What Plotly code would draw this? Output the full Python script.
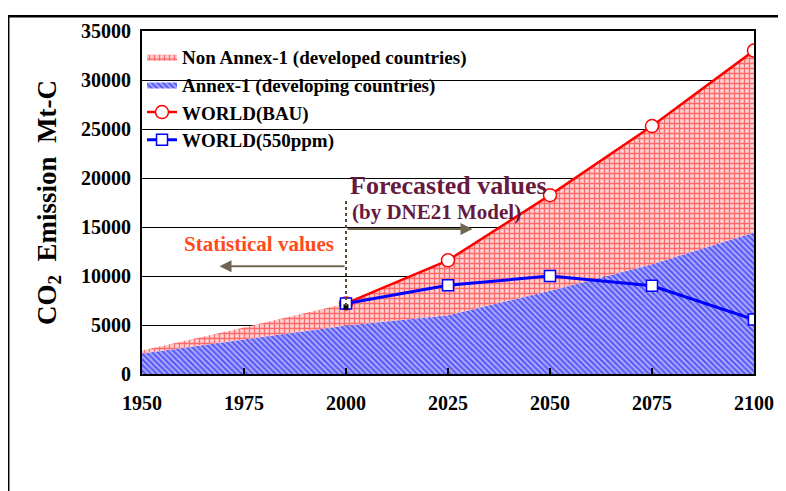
import plotly.graph_objects as go
import numpy as np

years = [1950, 1975, 2000, 2025, 2050, 2075, 2100]
annex1 = [2100, 3500, 4950, 6000, 8500, 11200, 14450]
non_annex1 = [300, 1250, 2250, 5600, 9750, 14100, 18550]
bau_years = [2000, 2025, 2050, 2075, 2100]
world_bau = [7200, 11600, 18250, 25300, 33000]
world_550 = [7200, 9050, 10000, 9000, 5550]
stat_end_year = [2000]
stat_end_val = [6850]

total = list(np.add(annex1, non_annex1))

FONT = "Liberation Serif, Times New Roman, serif"

fig = go.Figure()
fig.add_trace(go.Scatter(
    x=years, y=annex1, mode="lines", fill="tozeroy",
    line=dict(width=0, color="#2020ff"),
    fillcolor="white",
    fillpattern=dict(shape="\\", fgcolor="#0000ee", bgcolor="#b4b4ff", size=4, solidity=0.55),
    name="<b>Annex-1 (developing countries)</b>", legendrank=2))
fig.add_trace(go.Scatter(
    x=years, y=total, mode="lines", fill="tonexty",
    line=dict(width=0, color="#ff2020"),
    fillcolor="white",
    fillpattern=dict(shape="+", fgcolor="#ff0000", bgcolor="#ffd2d2", size=5, solidity=0.45),
    name="<b>Non Annex-1 (developed countries)</b>", legendrank=1))
fig.add_trace(go.Scatter(
    x=bau_years, y=world_bau, mode="lines+markers",
    line=dict(color="#ff0000", width=2.5),
    marker=dict(symbol="circle", size=13, color="white", line=dict(color="#ff0000", width=1.5)),
    name="<b>WORLD(BAU)</b>", legendrank=3))
fig.add_trace(go.Scatter(
    x=bau_years, y=world_550, mode="lines+markers",
    line=dict(color="#0000ff", width=3),
    marker=dict(symbol="square", size=11, color="white", line=dict(color="#0000ff", width=1.5)),
    name="<b>WORLD(550ppm)</b>", legendrank=4))
fig.add_trace(go.Scatter(
    x=stat_end_year, y=stat_end_val, mode="markers",
    marker=dict(symbol="square", size=5, color="black"), showlegend=False))

# dotted divider at 2000
fig.add_shape(type="line", x0=2000, x1=2000, y0=6950, y1=17900, xref="x", yref="y",
              line=dict(color="#5c4a2a", width=2, dash="dot"))

arrow_col = "#6e6650"
fig.add_annotation(x=2031, y=14800, ax=2000, ay=14800, xref="x", yref="y", axref="x", ayref="y",
                   text="", showarrow=True, arrowhead=2, arrowsize=1.2, arrowwidth=2, arrowcolor=arrow_col)
fig.add_annotation(x=1969, y=11000, ax=2000, ay=11000, xref="x", yref="y", axref="x", ayref="y",
                   text="", showarrow=True, arrowhead=2, arrowsize=1.2, arrowwidth=2, arrowcolor=arrow_col)

fig.add_annotation(x=2025.1, y=19250, xref="x", yref="y", text="<b>Forecasted values</b>", showarrow=False,
                   font=dict(family=FONT, size=26, color="#661a40"))
fig.add_annotation(x=2022.2, y=16550, xref="x", yref="y", text="<b>(by DNE21 Model)</b>", showarrow=False,
                   font=dict(family=FONT, size=21, color="#661a40"))
fig.add_annotation(x=1978.6, y=13300, xref="x", yref="y", text="<b>Statistical values</b>", showarrow=False,
                   font=dict(family=FONT, size=21, color="#ff4a1a"))

# outer frame
fig.add_shape(type="rect", xref="paper", yref="paper", x0=-0.2186, x1=1.2, y0=-0.6, y1=1.0431,
              line=dict(color="black", width=2.5), fillcolor="rgba(0,0,0,0)", layer="below")

fig.update_layout(
    width=778, height=483,
    margin=dict(l=134, r=31, t=18, b=117),
    paper_bgcolor="white", plot_bgcolor="white",
    font=dict(family=FONT, size=18, color="black"),
    showlegend=True,
    legend=dict(x=0.0, y=0.98, xanchor="left", yanchor="top", bgcolor="rgba(0,0,0,0)",
                font=dict(family=FONT, size=19, color="black"),
                traceorder="normal", itemwidth=30),
    xaxis=dict(range=[1950, 2100], tickvals=years, ticktext=[f"<b>{y}</b>" for y in years],
               ticks="inside", ticklen=6, tickcolor="black", tickwidth=1.5,
               showline=True, linecolor="black", linewidth=2, mirror=True,
               showgrid=False, zeroline=False, ticklabelstandoff=10,
               tickfont=dict(family=FONT, size=20, color="black")),
    yaxis=dict(range=[0, 35000], tickvals=list(range(0, 35001, 5000)),
               ticktext=[f"<b>{v}</b>" for v in range(0, 35001, 5000)],
               showline=True, linecolor="black", linewidth=2, mirror=True,
               showgrid=True, gridcolor="black", gridwidth=1, zeroline=False,
               ticks="", ticklabelstandoff=5,
               tickfont=dict(family=FONT, size=20, color="black"),
               title=dict(text="<b>CO<sub>2</sub>&nbsp; Emission&nbsp; Mt-C</b>", standoff=17,
                          font=dict(family=FONT, size=27, color="black"))),
)

fig.write_html("out.html")
